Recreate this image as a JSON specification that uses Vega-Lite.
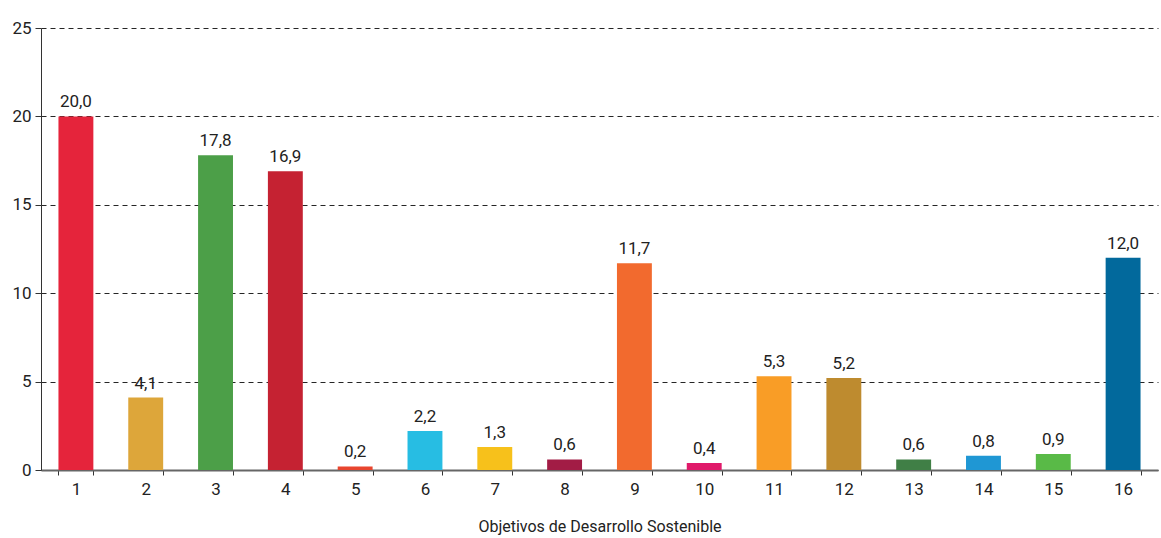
{
  "$schema": "https://vega.github.io/schema/vega-lite/v6.json",
  "autosize": {"type": "none"},
  "width": 1117,
  "height": 442,
  "padding": {"left": 41, "top": 28, "right": 3, "bottom": 68},
  "background": "white",
  "config": {
    "font": "Roboto",
    "view": {"stroke": null}
  },
  "data": {
    "values": [
      {"ods": "1", "valor": 20.0, "label": "20,0", "color": "#E5243B"},
      {"ods": "2", "valor": 4.1, "label": "4,1", "color": "#DDA63A"},
      {"ods": "3", "valor": 17.8, "label": "17,8", "color": "#4C9F48"},
      {"ods": "4", "valor": 16.9, "label": "16,9", "color": "#C52232"},
      {"ods": "5", "valor": 0.2, "label": "0,2", "color": "#E8452E"},
      {"ods": "6", "valor": 2.2, "label": "2,2", "color": "#27BDE3"},
      {"ods": "7", "valor": 1.3, "label": "1,3", "color": "#F7C11B"},
      {"ods": "8", "valor": 0.6, "label": "0,6", "color": "#A21C45"},
      {"ods": "9", "valor": 11.7, "label": "11,7", "color": "#F26A2E"},
      {"ods": "10", "valor": 0.4, "label": "0,4", "color": "#E01A6A"},
      {"ods": "11", "valor": 5.3, "label": "5,3", "color": "#F99D26"},
      {"ods": "12", "valor": 5.2, "label": "5,2", "color": "#BE8B2F"},
      {"ods": "13", "valor": 0.6, "label": "0,6", "color": "#407F46"},
      {"ods": "14", "valor": 0.8, "label": "0,8", "color": "#1F97D4"},
      {"ods": "15", "valor": 0.9, "label": "0,9", "color": "#59BA47"},
      {"ods": "16", "valor": 12.0, "label": "12,0", "color": "#02699C"}
    ]
  },
  "encoding": {
    "x": {
      "field": "ods",
      "type": "ordinal",
      "sort": null,
      "scale": {"paddingInner": 0.5, "paddingOuter": 0.25},
      "axis": {
        "title": "Objetivos de Desarrollo Sostenible",
        "titleFontSize": 16,
        "titleFontWeight": "normal",
        "titleColor": "#222",
        "titlePadding": 21,
        "labelAngle": 0,
        "labelFontSize": 17,
        "labelColor": "#222",
        "labelPadding": 6,
        "tickBand": "extent",
        "tickSize": 5,
        "tickColor": "#333",
        "domainColor": "#666",
        "domainWidth": 2,
        "grid": false
      }
    },
    "y": {
      "field": "valor",
      "type": "quantitative",
      "scale": {"domain": [0, 25]},
      "axis": {
        "title": null,
        "values": [0, 5, 10, 15, 20, 25],
        "labelFontSize": 17,
        "labelColor": "#222",
        "labelPadding": 4,
        "tickSize": 6,
        "tickColor": "#333",
        "domainColor": "#333",
        "grid": true,
        "gridColor": "#000",
        "gridDash": [5, 4],
        "gridWidth": 1,
        "gridOpacity": 0.85
      }
    }
  },
  "layer": [
    {
      "mark": {"type": "bar"},
      "encoding": {
        "color": {"field": "color", "type": "nominal", "scale": null}
      }
    },
    {
      "mark": {"type": "text", "baseline": "alphabetic", "dy": -9, "fontSize": 17, "color": "#222"},
      "encoding": {
        "text": {"field": "label", "type": "nominal"}
      }
    }
  ]
}
